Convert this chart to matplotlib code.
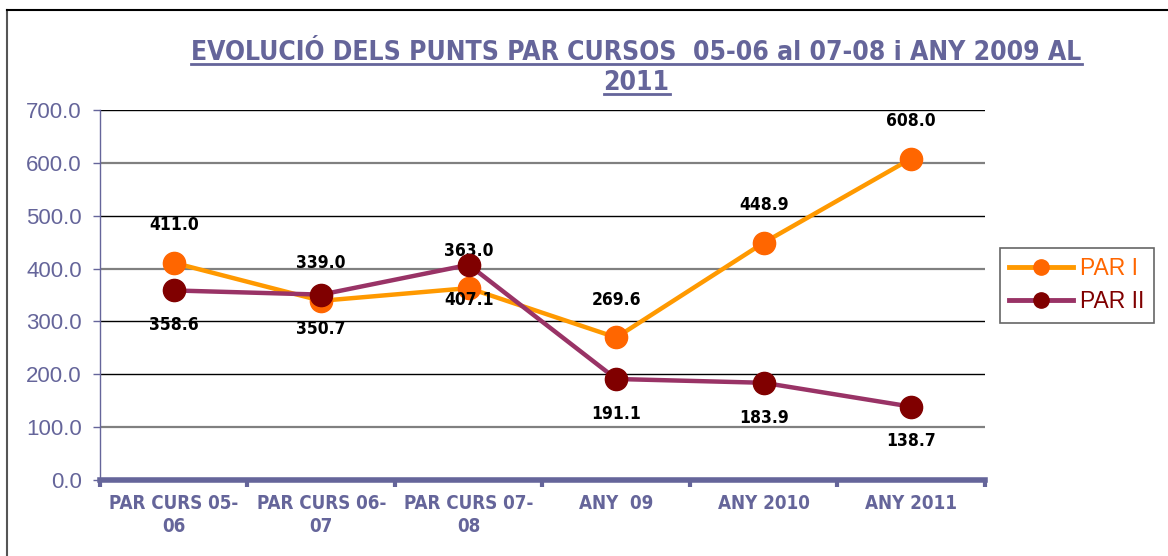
import matplotlib.pyplot as plt
from matplotlib.lines import Line2D

# data
categories = ['PAR CURS 05-\n06', 'PAR CURS 06-\n07', 'PAR CURS 07-\n08', 'ANY  09', 'ANY 2010', 'ANY 2011']
par_i = [411.0, 339.0, 363.0, 269.6, 448.9, 608.0]
par_ii = [358.6, 350.7, 407.1, 191.1, 183.9, 138.7]
y_ticks = [0, 100, 200, 300, 400, 500, 600, 700]

SANS = ['Liberation Sans', 'DejaVu Sans']
AXIS_COL = '#65659a'
# condensed bold, close to Arial Narrow Bold
NARROW = dict(family='DejaVu Sans', fontstretch='condensed', fontweight='bold')

fig = plt.figure(figsize=(11.68, 5.56), dpi=100)
ax = fig.add_axes([0.0856, 0.1367, 0.7577, 0.6655])

x = list(range(len(categories)))

# gridlines (alternating dark / grey as in the original)
grid_cols = {100: '#808080', 200: '#000000', 300: '#000000', 400: '#808080',
             500: '#000000', 600: '#808080', 700: '#000000'}
for v in y_ticks[1:]:
    ax.axhline(v, color=grid_cols[v], lw=1.6 if grid_cols[v] == '#808080' else 1.0, zorder=1)

ax.plot(x, par_i, color='#ff9900', lw=3.2, marker='o', ms=16,
        mfc='#ff6600', mec='#ff6600', zorder=3, label='PAR I')
ax.plot(x, par_ii, color='#993366', lw=3.2, marker='o', ms=16,
        mfc='#800000', mec='#800000', zorder=4, label='PAR II')

# data labels: PAR I above, PAR II below
for xi, v in zip(x, par_i):
    ax.annotate(f'{v:.1f}', (xi, v), xytext=(0, 27), textcoords='offset points',
                ha='center', va='center', fontsize=12.5, **NARROW)
for xi, v in zip(x, par_ii):
    ax.annotate(f'{v:.1f}', (xi, v), xytext=(0, -25), textcoords='offset points',
                ha='center', va='center', fontsize=12.5, **NARROW)

ax.set_xlim(-0.5, len(categories) - 0.5)
ax.set_ylim(0, 700)
ax.set_yticks(y_ticks)
ax.set_yticklabels([f'{v:.1f}' for v in y_ticks], color=AXIS_COL, fontsize=16, family=SANS)

# category labels between boundary ticks
ax.set_xticks([i - 0.5 for i in range(len(categories) + 1)])
ax.set_xticklabels([])
ax.set_xticks(x, minor=True)
ax.set_xticklabels(categories, minor=True, color=AXIS_COL, fontsize=13.5,
                   linespacing=1.25, **NARROW)
ax.tick_params(axis='x', which='minor', length=0, pad=10)
ax.tick_params(axis='x', which='major', length=5, width=3, color=AXIS_COL)
ax.tick_params(axis='y', length=5, width=1, color=AXIS_COL, pad=8)

for s in ['top', 'right']:
    ax.spines[s].set_visible(False)
ax.spines['left'].set_color(AXIS_COL)
ax.spines['left'].set_linewidth(1)
ax.spines['bottom'].set_color(AXIS_COL)
ax.spines['bottom'].set_linewidth(4)
ax.spines['bottom'].set_zorder(5)

# legend
handles = [Line2D([], [], color='#ff9900', lw=3.5, marker='o', ms=11, mfc='#ff6600', mec='#ff6600'),
           Line2D([], [], color='#993366', lw=3.5, marker='o', ms=11, mfc='#800000', mec='#800000')]
leg = fig.legend(handles, ['PAR I', 'PAR II'], loc='center left', bbox_to_anchor=(0.856, 0.487),
                 frameon=True, fancybox=False, edgecolor='#404040',
                 prop={'family': SANS, 'size': 16.5}, handlelength=2.8, borderpad=0.4,
                 labelspacing=0.45, handletextpad=0.3, borderaxespad=0)
leg.get_frame().set_linewidth(1.2)
for t, c in zip(leg.get_texts(), ['#ff6600', '#800000']):
    t.set_color(c)

# title with underline
t1 = fig.text(0.545, 1 - 59.5 / 556, 'EVOLUCIÓ DELS PUNTS PAR CURSOS  05-06 al 07-08 i ANY 2009 AL',
              ha='center', va='baseline', fontsize=19, color=AXIS_COL, **NARROW)
t2 = fig.text(0.545, 1 - 89.5 / 556, '2011', ha='center', va='baseline', fontsize=19,
              color=AXIS_COL, **NARROW)
fig.canvas.draw()
inv = fig.transFigure.inverted()
for t in (t1, t2):
    bb = t.get_window_extent().transformed(inv)
    _, yb = t.get_position()
    fig.add_artist(Line2D([bb.x0, bb.x1], [yb - 4 / 556, yb - 4 / 556], color=AXIS_COL,
                          lw=2, transform=fig.transFigure))

# outer frame (left and top edge visible)
fig.add_artist(Line2D([0.006, 0.006], [0.0, 0.982], color='#555555', lw=1.5, transform=fig.transFigure))
fig.add_artist(Line2D([0.006, 1.0], [0.982, 0.982], color='#000000', lw=1.5, transform=fig.transFigure))

fig.savefig('out.png', dpi=100)
